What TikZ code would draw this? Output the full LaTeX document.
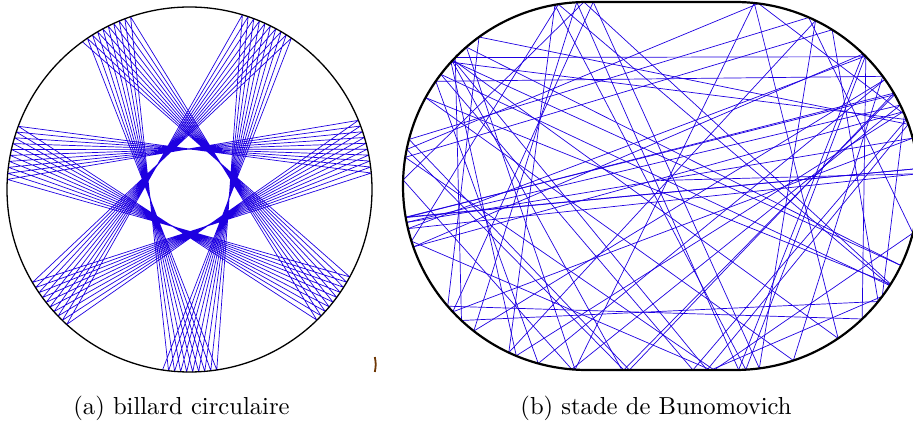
\documentclass[tikz,border=0pt]{standalone}
\definecolor{trajcol}{RGB}{30,0,225}
\definecolor{markcol}{RGB}{110,55,5}
\tikzset{
  trajline/.style={draw=trajcol, line width=0.7pt, line join=round},
  wallthin/.style={draw=black, line width=1.3pt},
  wallthick/.style={draw=black, line width=2.2pt},
  captext/.style={scale=2.46, font=\fontsize{10}{12}\selectfont, anchor=base, inner sep=0pt}
}
\begin{document}
\begin{tikzpicture}[x=1pt,y=1pt]
\useasboundingbox (0,0) rectangle (913,423);
\clip (0,0) rectangle (913,423);
% ---------- (a) circular billiard ----------
\def\th{154.5571}
\draw[trajline] plot[variable=\k, samples at={0,1,...,69}]
  ({189.5+182.5*cos(-98.5+\k*\th)},{233.5+182.5*sin(-98.5+\k*\th)});
\draw[wallthin] (189.5,233.5) circle[radius=182.5pt];
% ---------- (b) Bunimovich stadium ----------
\def\sa{0.4022}
\gdef\bx{0.0}\gdef\by{0.03}\gdef\ux{0.99966}\gdef\uy{0.02618}
\foreach \i in {1,...,72}{
  \pgfmathsetmacro\uyg{abs(\uy)<0.002 ? ((\uy)>=0 ? 0.002 : -0.002) : (\uy)}
  \pgfmathsetmacro\wy{(\uyg)>=0 ? 1 : -1}
  \pgfmathsetmacro\tf{((\wy)-(\by))/(\uyg)}
  \pgfmathsetmacro\X{(\bx)+(\tf)*(\ux)}
  \pgfmathsetmacro\isflat{abs(\X)<=\sa ? 1 : 0}
  \pgfmathsetmacro\cx{(\X)>0 ? \sa : -\sa}
  \pgfmathsetmacro\qx{(\bx)-(\cx)}
  \pgfmathsetmacro\bb{(\qx)*(\ux)+(\by)*(\uy)}
  \pgfmathsetmacro\cc{(\qx)*(\qx)+(\by)*(\by)-1}
  \pgfmathsetmacro\tc{sqrt(max((\bb)*(\bb)-(\cc),0))-(\bb)}
  \pgfmathsetmacro\hx{\isflat==1 ? (\X) : (\bx)+(\tc)*(\ux)}
  \pgfmathsetmacro\hy{\isflat==1 ? (\wy) : (\by)+(\tc)*(\uy)}
  \pgfmathsetmacro\nl{sqrt(((\hx)-(\cx))*((\hx)-(\cx))+(\hy)*(\hy))}
  \pgfmathsetmacro\nx{\isflat==1 ? 0 : ((\hx)-(\cx))/(\nl)}
  \pgfmathsetmacro\ny{\isflat==1 ? 1 : (\hy)/(\nl)}
  \pgfmathsetmacro\dn{(\ux)*(\nx)+(\uy)*(\ny)}
  \pgfmathsetmacro\vx{(\ux)-2*(\dn)*(\nx)}
  \pgfmathsetmacro\vy{(\uy)-2*(\dn)*(\ny)}
  \pgfmathsetmacro\vl{sqrt((\vx)*(\vx)+(\vy)*(\vy))}
  \pgfmathsetmacro\vx{(\vx)/(\vl)}
  \pgfmathsetmacro\vy{(\vy)/(\vl)}
  \draw[trajline] ({661+184*\bx},{237+184*\by}) -- ({661+184*\hx},{237+184*\hy});
  \xdef\bx{\hx}\xdef\by{\hy}\xdef\ux{\vx}\xdef\uy{\vy}
}
\draw[wallthick] (587,421) -- (735,421) arc[start angle=90, end angle=-90, radius=184pt]
  -- (587,53) arc[start angle=270, end angle=90, radius=184pt] -- cycle;
% small stray mark
\draw[draw=markcol, line width=1.8pt] (374.8,66) to[bend left=12] (374.8,51);
% ---------- captions ----------
\node[captext] (capa) at (181.5,9) {(a) billard circulaire};
\node[captext] (capb) at (656,9) {(b) stade de Bunomovich};
\end{tikzpicture}
\end{document}
